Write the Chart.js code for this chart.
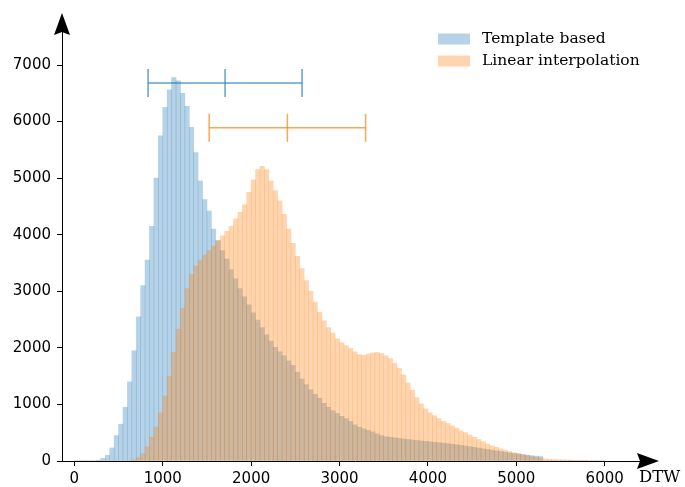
<!DOCTYPE html>
<html>
<head>
<meta charset="utf-8">
<script src="https://cdn.jsdelivr.net/npm/chart.js@4.4.0/dist/chart.umd.min.js"></script>
<style>
body { margin: 0; background: #fff; }
#wrap { width: 685px; height: 487px; }
</style>
</head>
<body>
<div id="wrap"><canvas id="dtwChart" width="685" height="487"></canvas></div>
<script>
// histogram bins, 50 wide, from 0 to 6000 (bin centres)
const binCenters = Array.from({ length: 120 }, (_, i) => 25 + 50 * i);

const templateCounts = [
    0, 0, 0, 0, 0, 15, 45, 100, 230, 450,
    650, 950, 1400, 1950, 2550, 3100, 3550, 4150, 5000, 5750,
    6250, 6560, 6780, 6720, 6500, 6270, 5900, 5450, 4950, 4620,
    4420, 4100, 3890, 3720, 3570, 3380, 3220, 3050, 2900, 2760,
    2620, 2490, 2360, 2230, 2120, 2010, 1930, 1860, 1770, 1690,
    1570, 1450, 1350, 1260, 1180, 1110, 1020, 950, 890, 840,
    790, 750, 700, 640, 600, 570, 540, 515, 480, 450,
    430, 420, 410, 400, 390, 380, 372, 364, 355, 347,
    340, 332, 324, 316, 308, 298, 288, 278, 266, 254,
    242, 228, 216, 204, 192, 180, 168, 156, 144, 134,
    124, 114, 104, 94, 86, 78, 0, 0, 0, 0,
    0, 0, 0, 0, 0, 0, 0, 0, 0, 0
];

const linearCounts = [
    0, 0, 0, 0, 0, 0, 0, 0, 0, 0,
    0, 0, 0, 20, 60, 130, 250, 420, 600, 850,
    1150, 1500, 1920, 2330, 2700, 3050, 3300, 3450, 3550, 3640,
    3720, 3800, 3900, 3980, 4060, 4150, 4280, 4400, 4530, 4750,
    4970, 5150, 5210, 5150, 4950, 4780, 4600, 4360, 4100, 3850,
    3620, 3400, 3190, 3000, 2810, 2630, 2480, 2360, 2260, 2160,
    2090, 2040, 1990, 1930, 1880, 1870, 1890, 1910, 1920, 1900,
    1860, 1810, 1730, 1640, 1520, 1380, 1250, 1120, 1010, 920,
    850, 800, 750, 700, 665, 620, 580, 535, 500, 460,
    420, 380, 340, 300, 270, 245, 215, 190, 165, 145,
    130, 110, 95, 80, 65, 50, 38, 30, 25, 22,
    20, 18, 15, 12, 8, 4, 0, 0, 0, 0
];

// mean +/- std bars drawn above the histograms
const seriesNames = ['Template based', 'Linear interpolation'];
const errCenters = [1705, 2410];
const errSpreads = [871, 885];
const errLevels = [6680, 5890];

const xTicks = [0, 1000, 2000, 3000, 4000, 5000, 6000];
const yTicks = [0, 1000, 2000, 3000, 4000, 5000, 6000, 7000];

const fillColors = ['rgba(31,119,180,0.33)', 'rgba(255,127,14,0.33)'];
const lineColors = ['rgba(31,119,180,0.7)', 'rgba(255,127,14,0.7)'];

function errPoints(i) {
    return [
        { x: errCenters[i] - errSpreads[i], y: errLevels[i] },
        { x: errCenters[i], y: errLevels[i] },
        { x: errCenters[i] + errSpreads[i], y: errLevels[i] }
    ];
}

function errDataset(i) {
    return {
        type: 'line',
        label: seriesNames[i] + ' std',
        data: errPoints(i),
        borderColor: lineColors[i],
        borderWidth: 1.5,
        pointStyle: 'line',
        pointRotation: 90,
        pointRadius: 14,
        pointBorderColor: lineColors[i],
        pointBorderWidth: 1.5,
        fill: false,
        order: 0
    };
}

const axesAndLegend = {
    id: 'axesAndLegend',
    afterDraw(chart) {
        const ctx = chart.ctx;
        const a = chart.chartArea;
        ctx.save();
        ctx.fillStyle = '#000';
        // arrow at the end of the x axis
        ctx.beginPath();
        ctx.moveTo(a.right + 11, a.bottom);
        ctx.lineTo(a.right - 11, a.bottom - 8);
        ctx.lineTo(a.right - 8, a.bottom);
        ctx.lineTo(a.right - 11, a.bottom + 8);
        ctx.closePath();
        ctx.fill();
        // arrow at the top of the y axis
        ctx.beginPath();
        ctx.moveTo(a.left, a.top - 11);
        ctx.lineTo(a.left - 8, a.top + 11);
        ctx.lineTo(a.left, a.top + 8);
        ctx.lineTo(a.left + 8, a.top + 11);
        ctx.closePath();
        ctx.fill();

        ctx.textBaseline = 'middle';
        ctx.textAlign = 'left';
        ctx.font = '16.5px "DejaVu Serif"';
        ctx.fillText('DTW', 639, 478);

        // legend
        ctx.font = '15.5px "DejaVu Serif"';
        const rows = [39, 61];
        seriesNames.forEach((name, i) => {
            ctx.fillStyle = fillColors[i];
            ctx.fillRect(438, rows[i] - 5.5, 32, 11);
            ctx.fillStyle = '#000';
            ctx.fillText(name, 482, rows[i]);
        });
        ctx.restore();
    }
};

const ctxDtw = document.getElementById('dtwChart').getContext('2d');
const dtwChart = new Chart(ctxDtw, {
    type: 'bar',
    data: {
        datasets: [{
            label: seriesNames[0],
            data: binCenters.map((x, i) => ({ x: x, y: templateCounts[i] })),
            backgroundColor: fillColors[0],
            borderWidth: 0,
            barPercentage: 1,
            categoryPercentage: 1,
            grouped: false,
            order: 2
        }, {
            label: seriesNames[1],
            data: binCenters.map((x, i) => ({ x: x, y: linearCounts[i] })),
            backgroundColor: fillColors[1],
            borderWidth: 0,
            barPercentage: 1,
            categoryPercentage: 1,
            grouped: false,
            order: 1
        }, errDataset(0), errDataset(1)]
    },
    options: {
        responsive: false,
        animation: false,
        devicePixelRatio: 1,
        layout: { padding: { top: 24, right: 37, left: 0, bottom: 0 } },
        plugins: {
            legend: { display: false },
            tooltip: { enabled: false }
        },
        scales: {
            x: {
                type: 'linear',
                min: -140,
                max: 6490,
                offset: false,
                afterFit(s) { s.height = 26; },
                afterBuildTicks(s) { s.ticks = xTicks.map(v => ({ value: v })); },
                ticks: {
                    color: '#000',
                    font: { family: 'DejaVu Sans', size: 15 },
                    padding: 4,
                    maxRotation: 0,
                    autoSkip: false,
                    callback: v => String(v)
                },
                grid: {
                    offset: false,
                    drawOnChartArea: false,
                    drawTicks: true,
                    tickLength: 5,
                    tickColor: '#000'
                },
                border: { display: true, color: '#000', width: 1 }
            },
            y: {
                min: 0,
                max: 7725,
                afterFit(s) { s.width = 62; },
                afterBuildTicks(s) { s.ticks = yTicks.map(v => ({ value: v })); },
                ticks: {
                    color: '#000',
                    font: { family: 'DejaVu Sans', size: 15 },
                    padding: 6,
                    callback: v => String(v)
                },
                grid: {
                    drawOnChartArea: false,
                    drawTicks: true,
                    tickLength: 5,
                    tickColor: '#000'
                },
                border: { display: true, color: '#000', width: 1 }
            }
        }
    },
    plugins: [axesAndLegend]
});
</script>
</body>
</html>
